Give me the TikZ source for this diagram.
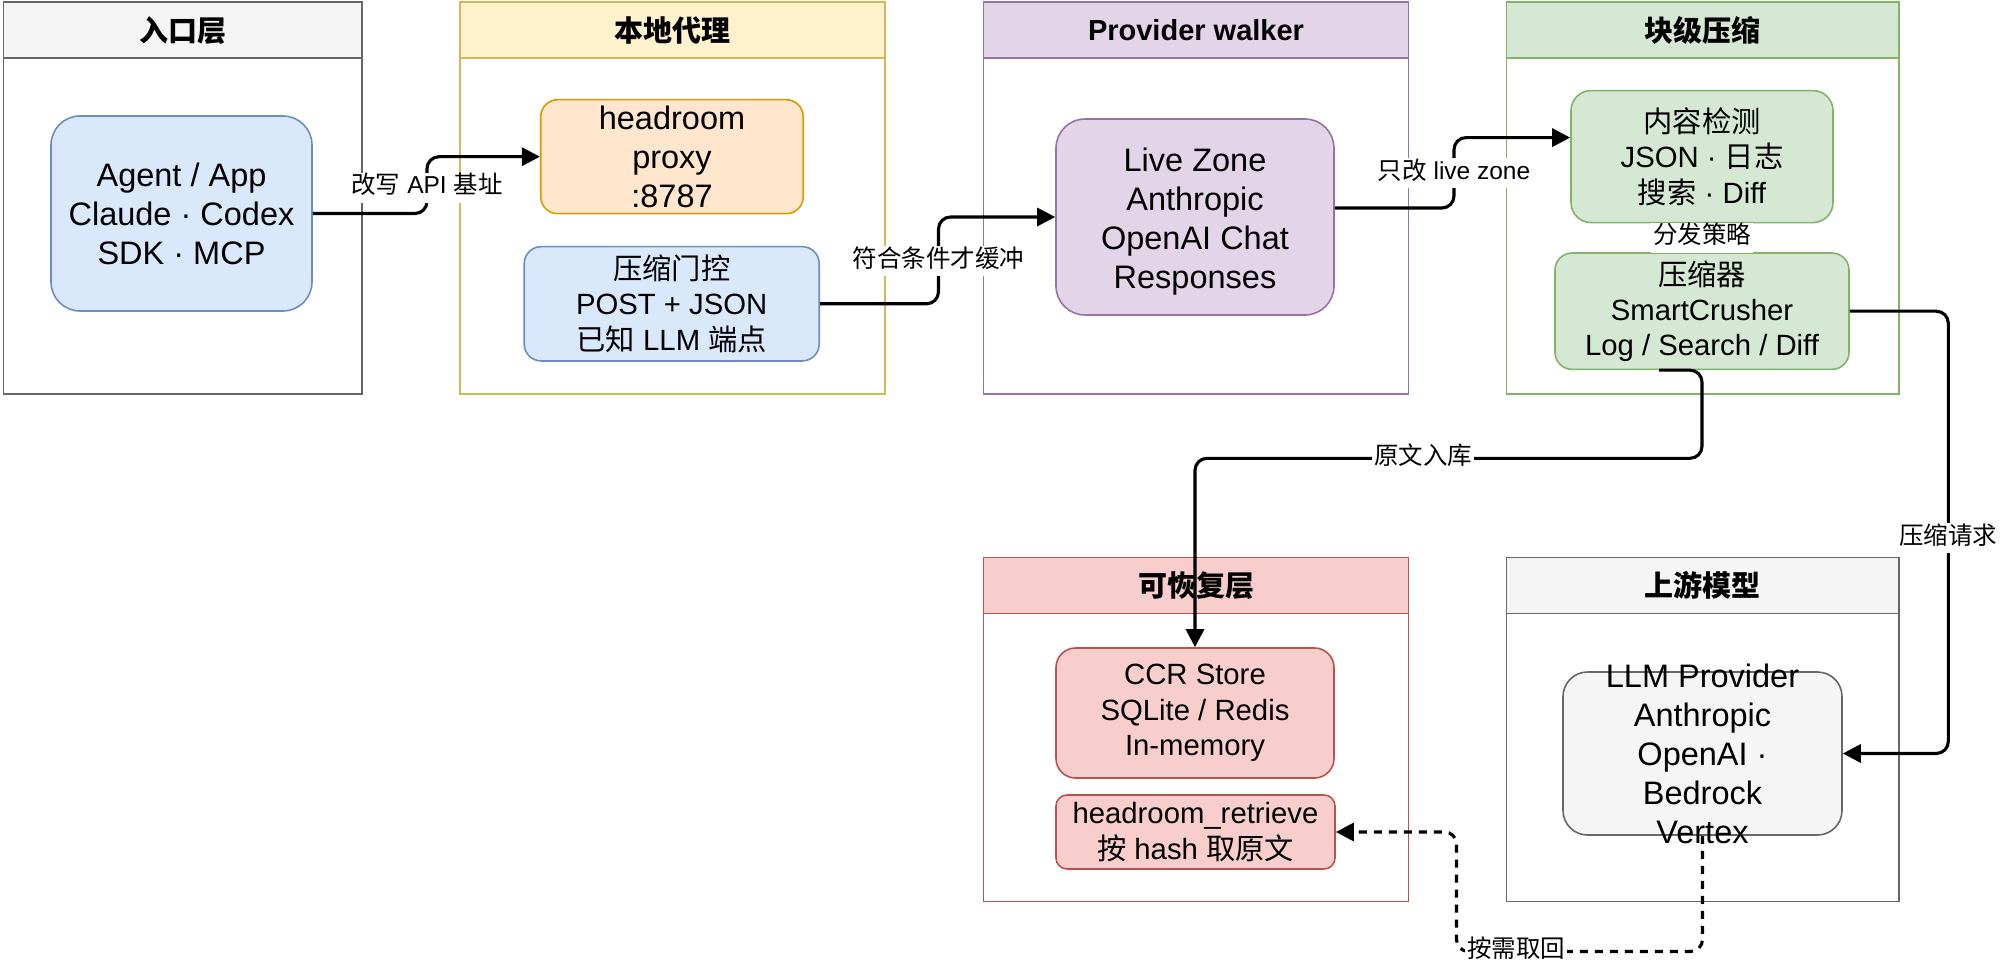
\documentclass[tikz,border=0pt]{standalone}
\usepackage{fontspec}
\setmainfont{Liberation Sans}
\newfontfamily\zhfont{Noto Sans CJK SC}
\newcommand\zh[1]{{\zhfont #1}}
\usetikzlibrary{arrows.meta,calc}
\definecolor{grayF}{HTML}{F5F5F5}\definecolor{grayS}{HTML}{666666}
\definecolor{yelF}{HTML}{FFF2CC}\definecolor{yelS}{HTML}{D6B656}
\definecolor{purF}{HTML}{E1D5E7}\definecolor{purS}{HTML}{9673A6}
\definecolor{grnF}{HTML}{D5E8D4}\definecolor{grnS}{HTML}{82B366}
\definecolor{redF}{HTML}{F8CECC}\definecolor{redS}{HTML}{B85450}
\definecolor{bluF}{HTML}{DAE8FC}\definecolor{bluS}{HTML}{6C8EBF}
\definecolor{orgF}{HTML}{FFE6CC}\definecolor{orgS}{HTML}{D79B00}
\begin{document}
\begin{tikzpicture}[x=1pt,y=-1pt,
  lanebody/.style={draw, line width=1.6pt, fill=white, anchor=north west, inner sep=0pt},
  lanehead/.style={draw, line width=1.6pt, anchor=north west, inner sep=0pt, minimum height=56pt,
    font=\fontsize{29}{35}\selectfont\bfseries},
  box/.style={draw, line width=1.6pt, inner sep=0pt, align=center},
  big/.style={font=\fontsize{32.5}{39}\selectfont},
  small/.style={font=\fontsize{29.3}{35.2}\selectfont},
  edge/.style={line width=3.1pt, rounded corners=12pt, -{Triangle[length=18pt,width=18pt]}},
  lbl/.style={fill=white, font=\fontsize{24.5}{29}\selectfont, inner xsep=2pt, inner ysep=3pt,
    text height=18pt, text depth=6pt}
]
\useasboundingbox (0,0) rectangle (2000,968);

% containers
\node[lanebody, draw=grayS, minimum width=358.5pt, minimum height=391.8pt] (L1) at (2.5,1.5) {};
\node[lanehead, draw=grayS, fill=grayF, minimum width=358.5pt] (L1h) at (2.5,1.5) {\zh{入口层}};
\node[lanebody, draw=yelS, minimum width=425pt, minimum height=391.8pt] (L2) at (459.3,1.5) {};
\node[lanehead, draw=yelS, fill=yelF, minimum width=425pt] (L2h) at (459.3,1.5) {\zh{本地代理}};
\node[lanebody, draw=purS, minimum width=425pt, minimum height=391.8pt] (L3) at (982.7,1.5) {};
\node[lanehead, draw=purS, fill=purF, minimum width=425pt] (L3h) at (982.7,1.5) {Provider walker};
\node[lanebody, draw=grnS, minimum width=392.6pt, minimum height=391.8pt] (L4) at (1505.7,1.5) {};
\node[lanehead, draw=grnS, fill=grnF, minimum width=392.6pt] (L4h) at (1505.7,1.5) {\zh{块级压缩}};
\node[lanebody, draw=redS, minimum width=425pt, minimum height=344pt] (L5) at (982.7,556.7) {};
\node[lanehead, draw=redS, fill=redF, minimum width=425pt] (L5h) at (982.7,556.7) {\zh{可恢复层}};
\node[lanebody, draw=grayS, minimum width=392.6pt, minimum height=344pt] (L6) at (1505.7,556.7) {};
\node[lanehead, draw=grayS, fill=grayF, minimum width=392.6pt] (L6h) at (1505.7,556.7) {\zh{上游模型}};

% nodes
\node[box, big, draw=bluS, fill=bluF, rounded corners=29pt, minimum width=261pt, minimum height=195pt]
  (agent) at (181.5,213.5) {Agent / App\\Claude · Codex\\SDK · MCP};
\node[box, big, draw=orgS, fill=orgF, rounded corners=17pt, minimum width=262.5pt, minimum height=114pt]
  (proxy) at (672,156.7) {headroom\\proxy\\:8787};
\node[box, small, draw=bluS, fill=bluF, rounded corners=17pt, minimum width=295pt, minimum height=114.3pt]
  (gate) at (671.7,303.8) {\zh{压缩门控}\\POST + JSON\\\zh{已知} LLM \zh{端点}};
\node[box, draw=purS, fill=purF, rounded corners=29pt, minimum width=278pt, minimum height=196pt]
  (lz) at (1195,217) {};
\node[big, align=center, inner sep=0pt] (lztext) at ([yshift=-5pt]lz.center) {Live Zone\\Anthropic\\OpenAI Chat\\Responses};
\node[box, small, draw=grnS, fill=grnF, rounded corners=20pt, minimum width=262pt, minimum height=132pt]
  (detect) at (1702,156.6) {\zh{内容检测}\\JSON · \zh{日志}\\\zh{搜索} · Diff};
\node[box, small, draw=grnS, fill=grnF, rounded corners=17pt, minimum width=294pt, minimum height=116.3pt]
  (comp) at (1702,311.2) {\zh{压缩器}\\SmartCrusher\\Log / Search / Diff};
\node[box, small, draw=redS, fill=redF, rounded corners=19.5pt, minimum width=278pt, minimum height=130pt]
  (ccr) at (1195,713) {CCR Store\\SQLite / Redis\\In-memory};
\node[box, small, draw=redS, fill=redF, rounded corners=11pt, minimum width=279pt, minimum height=74pt]
  (ret) at (1195.5,832) {headroom\_retrieve\\\zh{按} hash \zh{取原文}};
\node[box, draw=grayS, fill=grayF, rounded corners=24.5pt, minimum width=279pt, minimum height=163pt]
  (llm) at (1702.5,753.5) {};
\node[big, align=center, inner sep=0pt] (llmtext) at (llm.center) {LLM Provider\\Anthropic\\OpenAI ·\\Bedrock\\Vertex};

% waypoints
\coordinate (k1) at (427,188);
\coordinate (k2) at (938.5,261.5);
\coordinate (k3) at (1454,173.3);
\coordinate (k5) at (1702,458.3);
\coordinate (k5l) at (1423,458.3);
\coordinate (k6) at (1948.3,538.3);
\coordinate (k7) at (1456.5,951.5);
\coordinate (k7l) at (1516,951.5);

% connectors
\draw[edge] (agent.east) -| (k1) |- (proxy.west);
\draw[edge] (gate.east) -| (k2) |- (lz.west);
\draw[edge] ([yshift=9pt]lz.east) -| (k3) |- ([yshift=19pt]detect.west);
\draw[edge] (detect.south) -- (comp.north);
\draw[edge] ([xshift=-43pt]comp.south) -| (k5) -| (ccr.north);
\draw[edge] (comp.east) -| (k6) |- (llm.east);
\draw[edge, dash pattern=on 8pt off 7pt] (llm.south) |- (k7) |- (ret.east);

% labels
\node[lbl] (t1) at (k1) {\zh{改写} API \zh{基址}};
\node[lbl] (t2) at (k2) {\zh{符合条件才缓冲}};
\node[lbl] (t3) at (k3) {\zh{只改} live zone};
\node[lbl] (t4) at ($(detect.south)!0.5!(comp.north)$) {\zh{分发策略}};
\node[lbl] (t5) at (k5l) {\zh{原文入库}};
\node[lbl] (t6) at (k6) {\zh{压缩请求}};
\node[lbl] (t7) at (k7l) {\zh{按需取回}};
\end{tikzpicture}
\end{document}
